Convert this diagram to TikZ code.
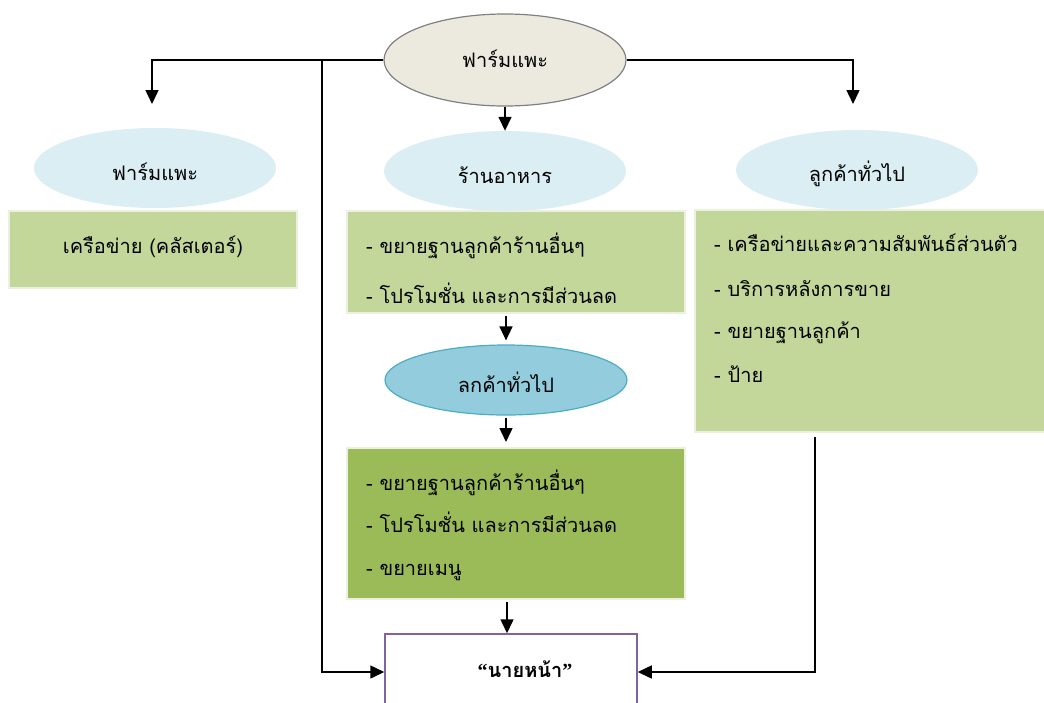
\documentclass[tikz,border=0pt]{standalone}
\usepackage{fontspec}
\setmainfont{Liberation Serif}
\newfontfamily\thai[Script=Thai]{Loma}
\newfontfamily\qf{Liberation Serif}
\usetikzlibrary{arrows.meta,shapes.geometric}
\definecolor{topfill}{HTML}{ECEADF}
\definecolor{topdraw}{HTML}{808080}
\definecolor{lblue}{HTML}{DAEEF3}
\definecolor{mblue}{HTML}{93CDDD}
\definecolor{mbluedraw}{HTML}{4BACC6}
\definecolor{lgreen}{HTML}{C4D79B}
\definecolor{dgreen}{HTML}{9BBB59}
\definecolor{gborder}{HTML}{EBF1DE}
\definecolor{purp}{HTML}{8064A2}
\tikzset{
  ell/.style={ellipse, minimum width=242, minimum height=80, inner sep=0pt},
  greenbox/.style={rectangle, draw=gborder, line width=2pt, inner sep=0pt},
  txt/.style={font=\thai\fontsize{20}{24}\selectfont, inner sep=0pt},
  ltxt/.style={txt, anchor=base west},
  conn/.style={line width=1.5pt, draw=black},
  arr/.style={conn, -{Triangle[width=13pt,length=14pt]}},
}
\begin{document}
\begin{tikzpicture}[x=1pt,y=-1pt]
\useasboundingbox (0,0) rectangle (1044,702);
% boxes
\node[greenbox, fill=lgreen, minimum width=288, minimum height=77] (lbox) at (153,249.5) {};
\node[greenbox, fill=lgreen, minimum width=338, minimum height=102] (mbox) at (516,262) {};
\node[greenbox, fill=dgreen, minimum width=338, minimum height=151] (dbox) at (516,523.5) {};
\node[greenbox, fill=lgreen, minimum width=355, minimum height=222] (rbox) at (872.5,321) {};
\node[rectangle, draw=purp, line width=1.5pt, fill=white, minimum width=252, minimum height=76, inner sep=0pt] (bot) at (511,672) {};
% ellipses
\node[ell, fill=topfill, draw=topdraw, line width=1.2pt, minimum height=92] (top) at (505,60) {};
\node[ell, fill=lblue] (lell) at (155,168) {};
\node[ell, fill=lblue] (mell) at (505,171) {};
\node[ell, fill=lblue] (rell) at (857,170) {};
\node[ell, fill=mblue, draw=mbluedraw, line width=1.2pt, minimum height=70] (cust) at (506,380) {};
% texts
\node[txt, anchor=base] (ttop) at (505,67) {ฟาร์มแพะ};
\node[txt, anchor=base] (tlell) at (155,180) {ฟาร์มแพะ};
\node[txt, anchor=base] (tmell) at (505,183) {ร้านอาหาร};
\node[txt, anchor=base] (trell) at (857,181) {ลูกค้าทั่วไป};
\node[txt, anchor=base] (tcust) at (506,392) {ลกค้าทั่วไป};
\node[txt, anchor=base] (tlbox) at (153,253) {เครือข่าย (คลัสเตอร์)};
\node[ltxt] (tm1) at (366,253) {- ขยายฐานลูกค้าร้านอื่นๆ};
\node[ltxt] (tm2) at (366,303) {- โปรโมชั่น และการมีส่วนลด};
\node[ltxt] (td1) at (366,490) {- ขยายฐานลูกค้าร้านอื่นๆ};
\node[ltxt] (td2) at (366,532) {- โปรโมชั่น และการมีส่วนลด};
\node[ltxt] (td3) at (366,575) {- ขยายเมนู};
\node[ltxt] (tr1) at (714,251) {- เครือข่ายและความสัมพันธ์ส่วนตัว};
\node[ltxt] (tr2) at (714,296) {- บริการหลังการขาย};
\node[ltxt] (tr3) at (714,338) {- ขยายฐานลูกค้า};
\node[ltxt] (tr4) at (714,382) {- ป้าย};
\node[txt, anchor=base, font=\thai\bfseries\fontsize{20}{24}\selectfont] (tbot) at (525,677) {{\qf “}นายหน้า{\qf ”}};
% connectors
\coordinate (c1) at (152,104);
\coordinate (c2) at (853,104);
\coordinate (j1) at (322,60);
\coordinate (r1) at (815,437);
\draw[arr] (top.west) -| (c1);
\draw[arr] (top.east) -| (c2);
\draw[arr] (top.south) -- (mell.north);
\draw[arr] (j1) |- (bot.west);
\draw[arr] (r1) |- (bot.east);
\draw[arr, shorten <=2pt, shorten >=4pt] (cust.north |- mbox.south) -- (cust.north);
\draw[arr, shorten <=2pt, shorten >=5pt] (cust.south) -- (cust.south |- dbox.north);
\draw[arr, shorten <=2pt] (507,600) -- (bot.north -| 507,0);
\end{tikzpicture}
\end{document}
